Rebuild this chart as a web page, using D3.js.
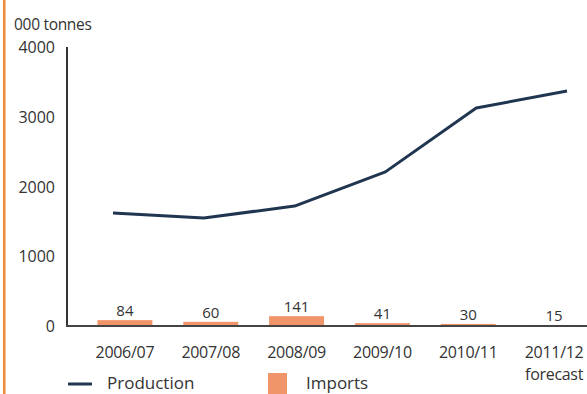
<!DOCTYPE html>
<html><head><meta charset="utf-8">
<script src="https://cdn.jsdelivr.net/npm/d3@7"></script>
<style>body{margin:0;background:#fff}svg{display:block;font-family:"Open Sans",sans-serif}</style>
</head><body>
<svg id="c" width="587" height="394"></svg>
<script>
const categories = ["2006/07","2007/08","2008/09","2009/10","2010/11","2011/12"];
const subLabels = ["","","","","","forecast"];
const production = [1620,1548,1720,2210,3125,3370];
const imports = [84,60,141,41,30,15];
const yTicks = [0,1000,2000,3000,4000];

const svg = d3.select("#c");
svg.append("rect").attr("x",3).attr("y",0).attr("width",2.5).attr("height",394).attr("fill","#f08a3c");

const y = d3.scaleLinear().domain([0,4000]).range([326,47]);
const xb = d3.scaleBand().domain(categories).range([82,597]).paddingInner(0.36).paddingOuter(0.18);
const xp = d3.scalePoint().domain(categories).range([113,567]);

// bars
svg.selectAll("rect.bar").data(categories).join("rect").attr("class","bar")
  .attr("x",d=>xb(d)).attr("width",xb.bandwidth())
  .attr("y",(d,i)=>y(imports[i])).attr("height",(d,i)=>y(0)-y(imports[i]))
  .attr("fill","#f0956a");
svg.selectAll("text.val").data(categories).join("text").attr("class","val")
  .attr("x",d=>xb(d)+xb.bandwidth()/2).attr("y",(d,i)=>y(imports[i])-4)
  .attr("text-anchor","middle").attr("font-size",15).attr("fill","#333")
  .text((d,i)=>imports[i]);

// axes
svg.append("line").attr("x1",67).attr("x2",67).attr("y1",47).attr("y2",326).attr("stroke","#333").attr("stroke-width",2);
svg.append("line").attr("x1",66).attr("x2",587).attr("y1",326).attr("y2",326).attr("stroke","#444").attr("stroke-width",2);

svg.selectAll("text.yt").data(yTicks).join("text").attr("class","yt")
  .attr("x",55).attr("y",d=>y(d)+6).attr("text-anchor","end")
  .attr("font-size",16).attr("fill","#333").text(d=>d);
svg.append("text").attr("x",14).attr("y",30).attr("font-size",15.5).attr("letter-spacing",-0.3).attr("fill","#333").text("000 tonnes");

svg.selectAll("text.xt").data(categories).join("text").attr("class","xt")
  .attr("x",d=>xb(d)+xb.bandwidth()/2).attr("y",358).attr("text-anchor","middle")
  .attr("font-size",16).attr("letter-spacing",-0.3).attr("fill","#333").text(d=>d);
svg.selectAll("text.xs").data(categories).join("text").attr("class","xs")
  .attr("x",d=>xb(d)+xb.bandwidth()/2).attr("y",380).attr("text-anchor","middle")
  .attr("font-size",16).attr("letter-spacing",-0.3).attr("fill","#333").text((d,i)=>subLabels[i]);

// line
const line = d3.line().x((d,i)=>xp(categories[i])).y(d=>y(d));
svg.append("path").datum(production).attr("d",line).attr("fill","none")
  .attr("stroke","#1f3550").attr("stroke-width",3).attr("stroke-linejoin","round");

// legend
svg.append("line").attr("x1",68).attr("x2",92).attr("y1",384).attr("y2",384).attr("stroke","#1f3550").attr("stroke-width",3);
svg.append("text").attr("x",107).attr("y",389).attr("font-size",17).attr("fill","#333").text("Production");
svg.append("rect").attr("x",268).attr("y",373).attr("width",19).attr("height",21).attr("fill","#f0956a");
svg.append("text").attr("x",306).attr("y",389).attr("font-size",17).attr("fill","#333").text("Imports");
</script>
</body></html>
